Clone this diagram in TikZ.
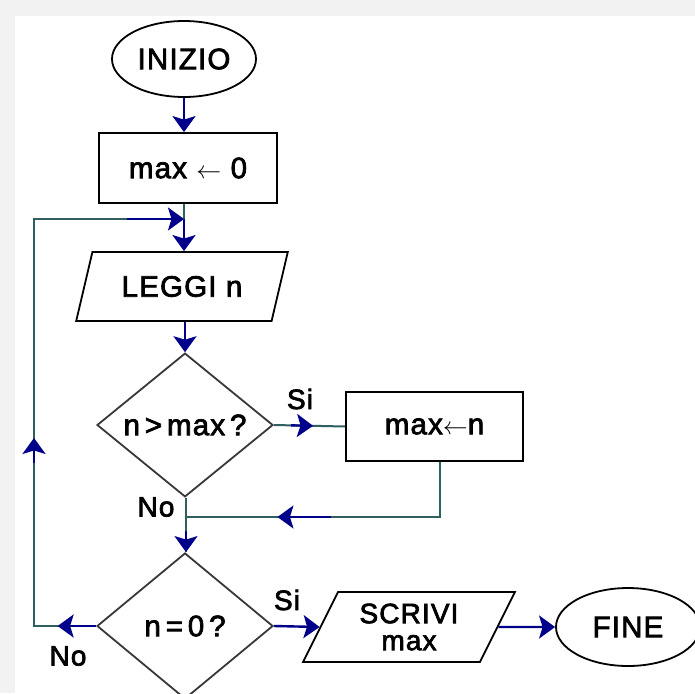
\documentclass[tikz,border=0pt]{standalone}
\usepackage{fontspec}
\setmainfont{Liberation Sans}[LetterSpace=4,FakeBold=2.5]
\usetikzlibrary{shapes.geometric,arrows.meta,calc}
\definecolor{lnc}{HTML}{2F5F5F}
\definecolor{arc}{HTML}{00008B}
\definecolor{bgc}{HTML}{F2F2F2}
\definecolor{shp}{HTML}{383838}
\begin{document}
\begin{tikzpicture}[x=1pt,y=-1pt,
  txt/.style={font=\fontsize{29.5}{29.5}\selectfont, text=black},
  term/.style={txt, ellipse, draw=black, line width=1.8pt, minimum width=144pt, minimum height=76pt, inner sep=0pt},
  proc/.style={txt, rectangle, draw=black, line width=1.8pt, minimum width=178pt, minimum height=70pt, inner sep=0pt},
  io/.style={txt, trapezium, trapezium left angle=62.4, trapezium right angle=117.6, trapezium stretches=true, draw=black, line width=1.8pt, minimum width=212pt, minimum height=69pt, inner sep=0pt},
  dec/.style={txt, diamond, draw=shp, line width=1.8pt, minimum width=176pt, minimum height=142pt, inner sep=0pt},
  lbl/.style={font=\fontsize{28}{28}\selectfont, text=black},
  ln/.style={draw=lnc, line width=2pt},
  arr/.style={draw=arc, line width=2.4pt, -{Stealth[length=16pt,width=23pt,inset=3.5pt]}}
]
\useasboundingbox (0,0) rectangle (695,693);
\clip (0,0) rectangle (695,693);
\fill[bgc] (0,0) rectangle (695,693);
\fill[white] (15,16) rectangle (695,693);

% nodes
\node[term] (ini) at (184,59) {INIZIO};
\node[proc] (m0) at (188,168) {max \ensuremath{\leftarrow} 0};
\node[io] (leggi) at (182,286.5) {LEGGI n};
\node[dec] (d1) at (185,425) {n\,>\,max\,?};
\node[proc, minimum width=177pt, minimum height=69pt] (mn) at (434.5,426.5) {max\ensuremath{\leftarrow}n};
\node[dec, minimum height=146pt] (d2) at (185,626) {n\,=\,0\,?};
\node[io, minimum height=70pt, align=center, font=\fontsize{28}{27}\selectfont] (scr) at (409,627) {SCRIVI\\max};
\node[term, minimum height=78pt] (fine) at (628,627) {FINE};

% labels
\node[lbl] (si1) at (300,399) {Si};
\node[lbl] (no1) at (156,507) {No};
\node[lbl] (si2) at (287,600) {Si};
\node[lbl] (no2) at (68,656) {No};

% helper coordinates
\coordinate (J1) at (184,219);
\coordinate (J2) at (186,517);
\coordinate (L1) at (34,219);
\coordinate (L2) at (34,626);
\coordinate (R1) at (440,517);

% connectors
\draw[arr] (ini.south) -- (ini.south |- m0.north);
\draw[ln] (m0.south -| J1) -- (J1);
\draw[arr] (J1) -- (J1 |- leggi.north);
\draw[arr] (leggi.south -| d1.north) -- (d1.north);

\draw[ln] (d1.east) -- (mn.west);
\draw[arr] ($(d1.east)!0.24!(mn.west)$) -- ($(d1.east)!0.55!(mn.west)$);

\draw[ln] (mn.south -| R1) -- (R1) -- (J2);
\draw[arr] ($(R1)!0.43!(J2)$) -- ($(R1)!0.64!(J2)$);

\draw[ln] (d1.south -| J2) -- (J2) -- (J2 |- d2.north);
\draw[arr] ($(J2)!0.4!(J2 |- d2.north)$) -- (J2 |- d2.north);

\draw[ln] (d2.west) -- (L2) -- (L1) -- (J1);
\draw[arr] (d2.west) -- ($(d2.west)!0.62!(L2)$);
\draw[arr] ($(L2)!0.40!(L1)$) -- ($(L2)!0.462!(L1)$);
\draw[arr] ($(L1)!0.62!(J1)$) -- (J1);

\draw[arr] (d2.east) -- (scr.west);
\draw[arr] (scr.east) -- (fine.west);
\end{tikzpicture}
\end{document}
